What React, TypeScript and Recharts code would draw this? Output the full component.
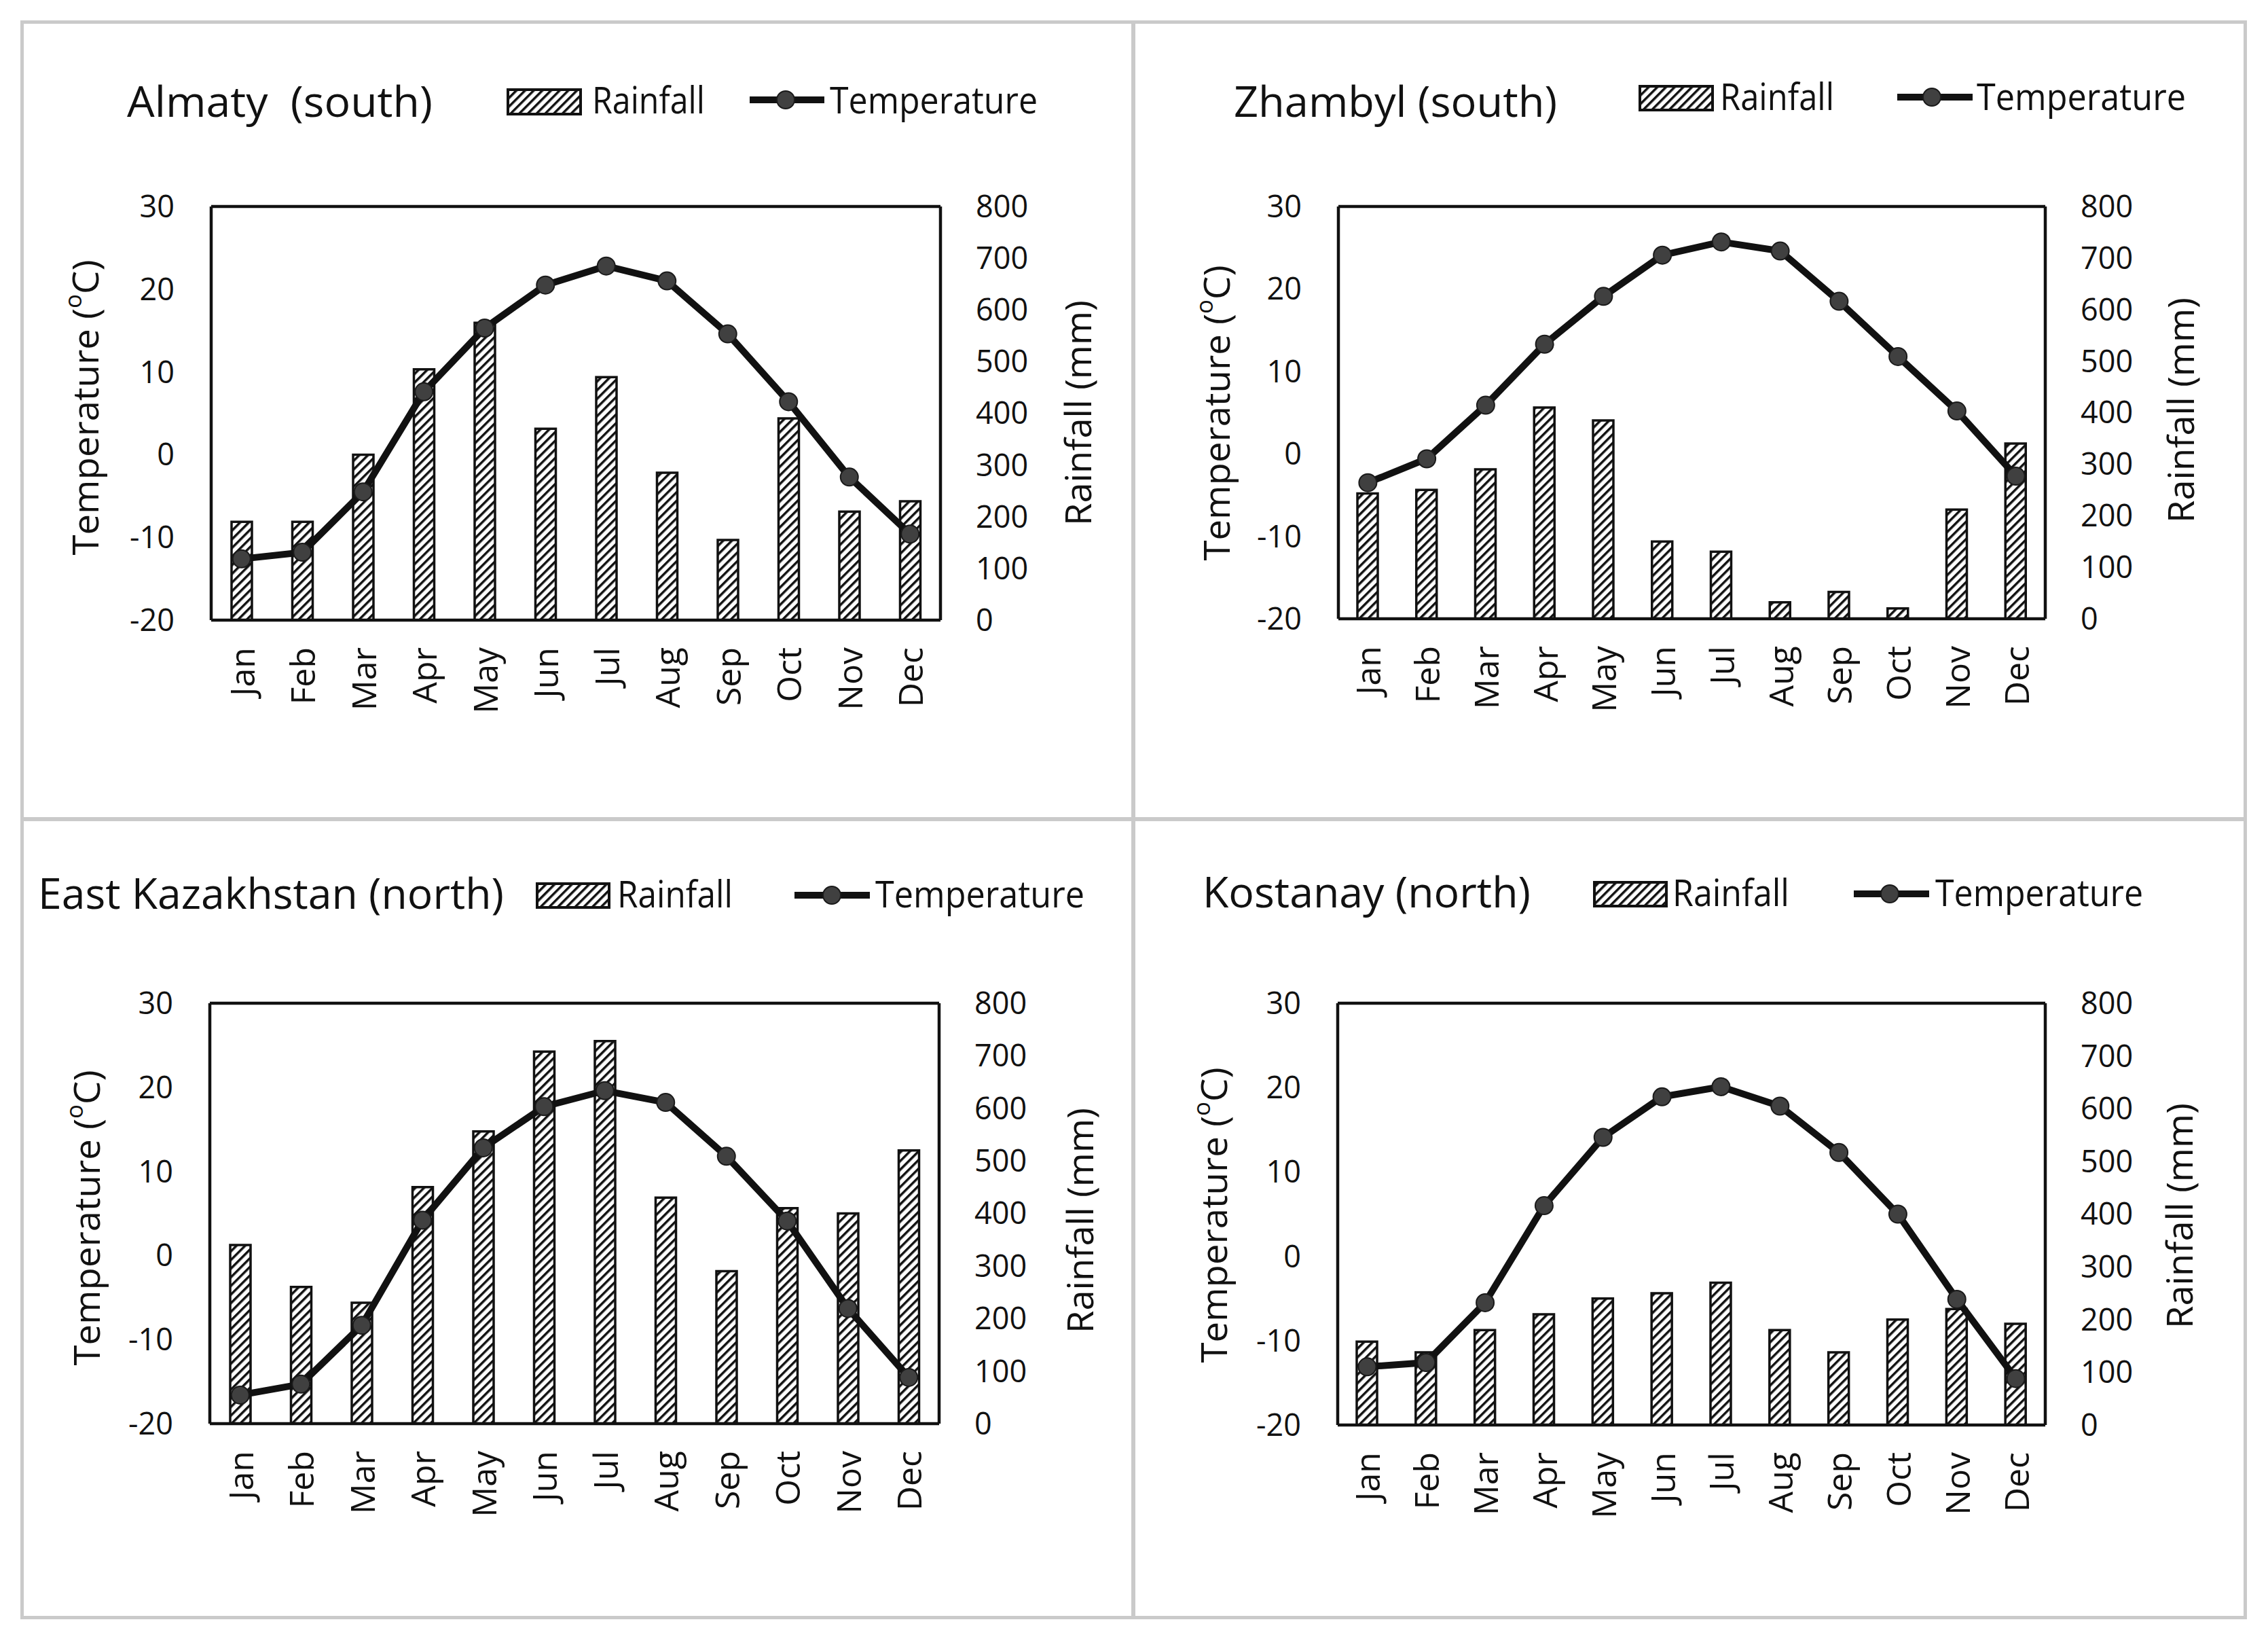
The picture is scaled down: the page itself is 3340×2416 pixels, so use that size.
import React from "react";
import { ComposedChart, Bar, Line, XAxis, YAxis, Legend, ReferenceLine } from "recharts";

const FONT = "'Open Sans', 'Noto Sans', sans-serif";
const INK = "#111";
const FRAME = "#cacaca";

const months = ["Jan", "Feb", "Mar", "Apr", "May", "Jun", "Jul", "Aug", "Sep", "Oct", "Nov", "Dec"];

// monthly mean temperature (°C) and rainfall (mm)
const almatyTemp = [-12.6, -11.8, -4.5, 7.6, 15.3, 20.5, 22.8, 21.0, 14.6, 6.4, -2.7, -9.6];
const almatyRain = [190, 190, 320, 485, 575, 370, 470, 285, 155, 390, 210, 230];

const zhambylTemp = [-3.5, -0.6, 5.9, 13.3, 19.1, 24.1, 25.7, 24.6, 18.5, 11.8, 5.2, -2.7];
const zhambylRain = [243, 250, 290, 410, 385, 150, 130, 32, 52, 20, 212, 340];

const eastKazTemp = [-16.6, -15.3, -8.3, 4.2, 12.8, 17.7, 19.6, 18.2, 11.8, 4.1, -6.3, -14.5];
const eastKazRain = [340, 260, 230, 450, 556, 708, 728, 430, 290, 410, 400, 520];

const kostanayTemp = [-13.1, -12.6, -5.5, 6.0, 14.1, 18.9, 20.1, 17.8, 12.3, 5.0, -5.1, -14.5];
const kostanayRain = [158, 138, 180, 210, 240, 250, 270, 180, 138, 200, 220, 192];

const tempTicks = [-20, -10, 0, 10, 20, 30];
const rainTicks = [0, 100, 200, 300, 400, 500, 600, 700, 800];

// panel boxes and inner positions (px, relative to each panel box)
const panels = [
  {
    key: "almaty",
    title: "Almaty\u00a0\u00a0(south)",
    temp: almatyTemp,
    rain: almatyRain,
    box: { left: 32, top: 32, width: 1637, height: 1174 },
    plot: { top: 272, bottom: 93, leftW: 279, rightW: 284 },
    titleAt: { x: 155, y: 140, len: 450 },
    legend: { sx: 716, sy: 100, sw: 107, sh: 36, rx: 840, base: 135, rlen: 166, lx1: 1072, lx2: 1182, ly: 115, dx: 1125, tx: 1190, tlen: 306 },
    axisTitles: { lx: 92, ly: 568, rx: 1554, ry: 576 },
  },
  {
    key: "zhambyl",
    title: "Zhambyl (south)",
    temp: zhambylTemp,
    rain: zhambylRain,
    box: { left: 1669, top: 32, width: 1637, height: 1174 },
    plot: { top: 272, bottom: 95, leftW: 302, rightW: 294 },
    titleAt: { x: 148, y: 140, len: 476 },
    legend: { sx: 746, sy: 95, sw: 107, sh: 35, rx: 864, base: 130, rlen: 168, lx1: 1125, lx2: 1236, ly: 111, dx: 1176, tx: 1242, tlen: 308 },
    axisTitles: { lx: 121, ly: 576, rx: 1541, ry: 572 },
  },
  {
    key: "eastkaz",
    title: "East Kazakhstan (north)",
    temp: eastKazTemp,
    rain: eastKazRain,
    box: { left: 32, top: 1206, width: 1637, height: 1175 },
    plot: { top: 271, bottom: 85, leftW: 277, rightW: 286 },
    titleAt: { x: 24, y: 132, len: 686 },
    legend: { sx: 759, sy: 95, sw: 106, sh: 35, rx: 877, base: 130, rlen: 170, lx1: 1138, lx2: 1249, ly: 112, dx: 1193, tx: 1257, tlen: 308 },
    axisTitles: { lx: 94, ly: 587, rx: 1557, ry: 591 },
  },
  {
    key: "kostanay",
    title: "Kostanay (north)",
    temp: kostanayTemp,
    rain: kostanayRain,
    box: { left: 1669, top: 1206, width: 1637, height: 1175 },
    plot: { top: 271, bottom: 83, leftW: 301, rightW: 294 },
    titleAt: { x: 102, y: 130, len: 483 },
    legend: { sx: 679, sy: 93, sw: 106, sh: 35, rx: 794, base: 128, rlen: 172, lx1: 1061, lx2: 1172, ly: 110, dx: 1114, tx: 1181, tlen: 306 },
    axisTitles: { lx: 117, ly: 583, rx: 1539, ry: 584 },
  },
];

const X_AXIS_H = 200;
const dotStyle = { r: 13, fill: "#404040", stroke: "#1a1a1a", strokeWidth: 2 };
const borderLine = { stroke: INK, strokeWidth: 4.5 };

const MonthTick = (props: any) => {
  const { x, y, payload } = props;
  return (
    <text
      x={x}
      y={y}
      transform={`rotate(-90 ${x} ${y})`}
      textAnchor="end"
      dominantBaseline="central"
      fontFamily={FONT}
      fontSize={50}
      fill={INK}
    >
      {payload.value}
    </text>
  );
};

const TempTitle = ({ cx, cy }: any) => (
  <text
    x={cx}
    y={cy}
    transform={`rotate(-90 ${cx} ${cy})`}
    textAnchor="middle"
    dominantBaseline="central"
    fontFamily={FONT}
    fontSize={53}
    fill={INK}
    textLength={435}
    lengthAdjust="spacingAndGlyphs"
  >
    Temperature (<tspan fontSize={34} dy={-17}>o</tspan><tspan dy={17}>C)</tspan>
  </text>
);

const RainTitle = ({ cx, cy }: any) => (
  <text
    x={cx}
    y={cy}
    transform={`rotate(-90 ${cx} ${cy})`}
    textAnchor="middle"
    dominantBaseline="central"
    fontFamily={FONT}
    fontSize={53}
    fill={INK}
    textLength={332}
    lengthAdjust="spacingAndGlyphs"
  >
    Rainfall (mm)
  </text>
);

const makeLegend = (lg: any, width: number) => (props: any) => {
  const payload = props.payload ?? [];
  const rain = payload.find((p: any) => p.dataKey === "rainfall");
  const temp = payload.find((p: any) => p.dataKey === "temperature");
  return (
    <svg width={width} height={180} style={{ display: "block", overflow: "visible" }}>
      <rect x={lg.sx} y={lg.sy} width={lg.sw} height={lg.sh} fill="url(#rain-hatch)" stroke={INK} strokeWidth={4} />
      <text
        x={lg.rx}
        y={lg.base}
        fontFamily={FONT}
        fontSize={54}
        fill={INK}
        textLength={lg.rlen}
        lengthAdjust="spacingAndGlyphs"
      >
        {rain?.value ?? "Rainfall"}
      </text>
      <line x1={lg.lx1} x2={lg.lx2} y1={lg.ly} y2={lg.ly} stroke={INK} strokeWidth={10} />
      <circle cx={lg.dx} cy={lg.ly} {...dotStyle} />
      <text
        x={lg.tx}
        y={lg.base}
        fontFamily={FONT}
        fontSize={54}
        fill={INK}
        textLength={lg.tlen}
        lengthAdjust="spacingAndGlyphs"
      >
        {temp?.value ?? "Temperature"}
      </text>
    </svg>
  );
};

const ClimatePanel = ({ cfg }: any) => {
  const { box, plot, titleAt, legend, axisTitles } = cfg;
  const data = months.map((m, i) => ({ month: m, temperature: cfg.temp[i], rainfall: cfg.rain[i] }));
  return (
    <div style={{ position: "absolute", left: box.left, top: box.top, width: box.width, height: box.height }}>
      <ComposedChart
        width={box.width}
        height={box.height}
        data={data}
        margin={{ top: plot.top, right: 0, bottom: plot.bottom, left: 0 }}
      >
        <XAxis
          dataKey="month"
          height={X_AXIS_H}
          interval={0}
          tickSize={0}
          tickMargin={40}
          tickLine={false}
          axisLine={borderLine}
          tick={<MonthTick />}
        />
        <YAxis
          yAxisId="temp"
          orientation="left"
          width={plot.leftW}
          domain={[-20, 30]}
          ticks={tempTicks}
          interval={0}
          tickSize={0}
          tickMargin={54}
          tickLine={false}
          axisLine={borderLine}
          tick={{ fontSize: 45, fill: INK, fontFamily: FONT }}
          label={<TempTitle cx={axisTitles.lx} cy={axisTitles.ly} />}
        />
        <YAxis
          yAxisId="rain"
          orientation="right"
          width={plot.rightW}
          domain={[0, 800]}
          ticks={rainTicks}
          interval={0}
          tickSize={0}
          tickMargin={52}
          tickLine={false}
          axisLine={borderLine}
          tick={{ fontSize: 45, fill: INK, fontFamily: FONT, textAnchor: "start" }}
          label={<RainTitle cx={axisTitles.rx} cy={axisTitles.ry} />}
        />
        {/* top edge of the plot frame */}
        <ReferenceLine yAxisId="temp" y={30} stroke={INK} strokeWidth={4.5} ifOverflow="visible" />
        <Bar
          yAxisId="rain"
          dataKey="rainfall"
          name="Rainfall"
          barSize={30}
          fill="url(#rain-hatch)"
          stroke={INK}
          strokeWidth={3.5}
          isAnimationActive={false}
        />
        <Line
          yAxisId="temp"
          type="linear"
          dataKey="temperature"
          name="Temperature"
          stroke={INK}
          strokeWidth={10}
          dot={dotStyle}
          activeDot={false}
          isAnimationActive={false}
        />
        <Legend
          layout="horizontal"
          verticalAlign="middle"
          align="center"
          wrapperStyle={{ left: 0, top: 0, width: box.width, height: 180, margin: 0, padding: 0 }}
          content={makeLegend(legend, box.width)}
        />
      </ComposedChart>
      <svg
        width={box.width}
        height={200}
        style={{ position: "absolute", left: 0, top: 0, pointerEvents: "none" }}
      >
        <text
          x={titleAt.x}
          y={titleAt.y}
          fontFamily={FONT}
          fontSize={63}
          fill={INK}
          textLength={titleAt.len}
          lengthAdjust="spacingAndGlyphs"
        >
          {cfg.title}
        </text>
      </svg>
    </div>
  );
};

export default function App() {
  return (
    <div style={{ position: "relative", width: 3340, height: 2416, background: "#fff", overflow: "hidden" }}>
      <style>{"body{margin:0;background:#fff}"}</style>
      {/* shared hatch fill for the rainfall bars and legend swatch */}
      <svg width={0} height={0} style={{ position: "absolute" }}>
        <defs>
          <pattern id="rain-hatch" patternUnits="userSpaceOnUse" width={9} height={9} patternTransform="rotate(45)">
            <rect width={9} height={9} fill="#fff" />
            <rect width={3.5} height={9} fill={INK} />
          </pattern>
        </defs>
      </svg>
      {/* outer frame and panel dividers */}
      <div
        style={{
          position: "absolute",
          left: 30,
          top: 30,
          width: 3279,
          height: 2354,
          border: `5px solid ${FRAME}`,
          boxSizing: "border-box",
        }}
      />
      <div style={{ position: "absolute", left: 1666, top: 30, width: 6, height: 2354, background: FRAME }} />
      <div style={{ position: "absolute", left: 30, top: 1203, width: 3279, height: 6, background: FRAME }} />
      {panels.map((p) => (
        <ClimatePanel key={p.key} cfg={p} />
      ))}
    </div>
  );
}
